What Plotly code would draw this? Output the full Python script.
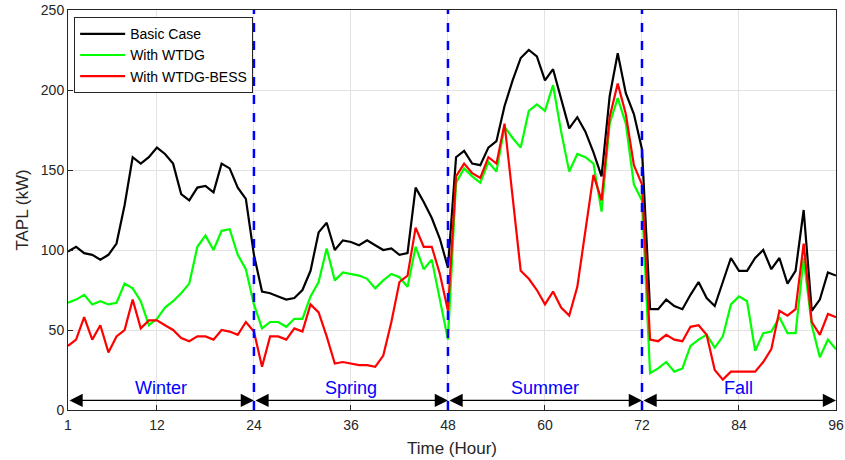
import plotly.graph_objects as go

hours = list(range(1, 97))

basic = [99, 102, 98, 97, 94, 97, 104, 128, 158, 154, 158, 164, 160, 154, 135, 131, 139, 140, 136, 154, 151, 139, 132, 97,
         74, 73, 71, 69, 70, 75, 87, 111, 117, 100, 106, 105, 103, 106, 103, 100, 101, 97, 98, 139, 130, 120, 107, 89,
         158, 162, 154, 153, 164, 168, 190, 206, 220, 225, 221, 206, 213, 195, 176, 183, 174, 161, 146, 196, 223, 198, 185, 163,
         63, 63, 69, 65, 63, 72, 80, 70, 65, 80, 95, 87, 87, 95, 100, 88, 95, 79, 87, 125, 62, 69, 86, 84]

wtdg = [67, 69, 72, 66, 68, 66, 67, 79, 76, 68, 53, 57, 64, 68, 73, 79, 102, 109, 100, 112, 113, 97, 88, 66,
        51, 55, 55, 52, 57, 57, 71, 80, 101, 81, 86, 85, 84, 82, 76, 81, 85, 83, 77, 102, 88, 94, 69, 44,
        142, 151, 146, 142, 155, 149, 177, 170, 164, 187, 191, 187, 203, 174, 149, 160, 158, 154, 124, 179, 195, 179, 141, 131,
        23, 26, 30, 24, 26, 40, 44, 47, 39, 46, 66, 71, 68, 37, 48, 49, 58, 48, 48, 95, 53, 33, 44, 38]

bess = [40, 44, 58, 44, 53, 36, 46, 50, 69, 51, 56, 56, 53, 50, 45, 43, 46, 46, 44, 50, 49, 47, 55, 49,
        27, 46, 46, 44, 51, 49, 66, 61, 46, 29, 30, 29, 28, 28, 27, 34, 55, 80, 84, 114, 102, 102, 85, 62,
        146, 154, 148, 145, 158, 154, 179, 133, 87, 82, 75, 66, 74, 64, 59, 77, 111, 147, 131, 183, 204, 185, 153, 141,
        44, 43, 47, 44, 43, 52, 53, 47, 25, 19, 24, 24, 24, 24, 30, 38, 62, 59, 63, 104, 55, 47, 60, 58]

series_names = ["Basic Case", "With WTDG", "With WTDG-BESS"]
series_colors = ["#000000", "#00FF00", "#FF0000"]

seasons = ["Winter", "Spring", "Summer", "Fall"]
bounds = [1, 24, 48, 72, 96]
dividers = [24, 48, 72]
arrow_level = 6
label_level = 14

x_ticks = [1, 12, 24, 36, 48, 60, 72, 84, 96]
y_ticks = [0, 50, 100, 150, 200, 250]

FONT = "Liberation Sans, Arial, sans-serif"

fig = go.Figure()
for name, vals, col in zip(series_names, [basic, wtdg, bess], series_colors):
    fig.add_trace(go.Scatter(x=hours, y=vals, mode="lines", name=name,
                             line=dict(color=col, width=2.2)))

for d in dividers:
    fig.add_shape(type="line", xref="x", yref="y", x0=d, x1=d, y0=0, y1=250,
                  line=dict(color="#0000FF", width=2.5, dash="dash"))

annotations = []
for i, s in enumerate(seasons):
    a, b = bounds[i], bounds[i + 1]
    annotations.append(dict(x=b, y=arrow_level, ax=a, ay=arrow_level, xref="x", yref="y",
                            axref="x", ayref="y", text="", showarrow=True,
                            arrowhead=2, startarrowhead=2, arrowside="end+start",
                            arrowsize=2.2, startarrowsize=2.2, arrowwidth=1.2, arrowcolor="#000000"))
    annotations.append(dict(x=(a + b) / 2, y=label_level, xref="x", yref="y", text=s,
                            showarrow=False, font=dict(color="#0000FF", size=18, family=FONT)))

fig.update_layout(
    width=845, height=460,
    margin=dict(l=68, r=9, t=10, b=50),
    paper_bgcolor="white", plot_bgcolor="white",
    font=dict(family=FONT, size=14, color="#262626"),
    showlegend=True,
    legend=dict(x=0.008, y=0.982, xanchor="left", yanchor="top",
                bgcolor="white", bordercolor="#262626", borderwidth=1,
                font=dict(size=14, color="#000000"), tracegroupgap=0,
                itemwidth=45),
    annotations=annotations,
)
fig.update_xaxes(range=[1, 96], tickvals=x_ticks, ticktext=[str(t) for t in x_ticks],
                 showgrid=True, gridcolor="#e3e3e3", gridwidth=1,
                 showline=True, linecolor="#262626", linewidth=1, mirror=True,
                 ticks="inside", ticklen=5, tickcolor="#262626", zeroline=False,
                 automargin=False, ticklabelstandoff=2,
                 title=dict(text="Time (Hour)", standoff=10))
fig.update_yaxes(range=[0, 250], tickvals=y_ticks,
                 showgrid=True, gridcolor="#e3e3e3", gridwidth=1,
                 showline=True, linecolor="#262626", linewidth=1, mirror=True,
                 ticks="inside", ticklen=5, tickcolor="#262626", zeroline=False,
                 automargin=False,
                 title=dict(text="TAPL (kW)", standoff=7))

fig.write_html("out.html", config={"displayModeBar": False},
               post_script="document.body.style.margin='0';")
